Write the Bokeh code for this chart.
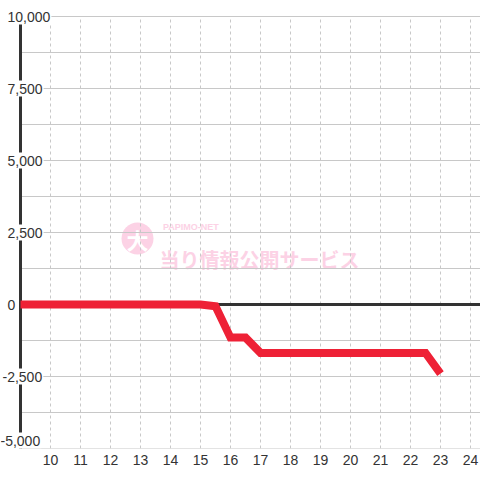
from bokeh.plotting import figure
from bokeh.models import Range1d, FixedTicker
from bokeh.core.properties import value
from bokeh.embed import file_html
from bokeh.resources import INLINE

# data
times = [9, 15, 15.5, 16, 16.5, 17, 22.5, 23]
values = [0, 0, -60, -1150, -1150, -1680, -1680, -2400]
x_ticks = [10, 11, 12, 13, 14, 15, 16, 17, 18, 19, 20, 21, 22, 23, 24]
y_ticks = [10000, 7500, 5000, 2500, 0, -2500, -5000]
y_labels = ["10,000", "7,500", "5,000", "2,500", "0", "-2,500", "-5,000"]
grid_values = [10000, 8750, 7500, 6250, 5000, 3750, 2500, 1250, 0, -1250, -2500, -3750, -5000]

# layout constants
PX_X = 30.0            # pixels per hour
PX_Y = 72.0 / 2500.0   # pixels per unit of value
AXIS_X = 9
Y0, YTOP = -5000, 10000
X0 = AXIS_X - 20 / PX_X
X1 = X0 + 480 / PX_X
Y1 = YTOP + 16 / PX_Y

p = figure(width=480, height=480, output_backend="svg", toolbar_location=None,
           x_range=Range1d(X0, X1), y_range=Range1d(Y0, Y1),
           min_border_left=0, min_border_right=0, min_border_top=0, min_border_bottom=32)
p.outline_line_color = None
p.background_fill_color = "white"
p.border_fill_color = "white"
p.yaxis.visible = False
p.grid.visible = False

ax = p.xaxis[0]
ax.ticker = FixedTicker(ticks=x_ticks)
ax.axis_line_color = None
ax.major_tick_line_color = None
ax.minor_tick_line_color = None
ax.major_tick_out = 0
ax.major_tick_in = 0
ax.major_label_standoff = 6
ax.major_label_text_font = "Liberation Sans"
ax.major_label_text_font_size = "14px"
ax.major_label_text_color = "#333333"

# watermark
p.scatter([12.9], [2290], size=32, marker="circle", fill_color="#fcd2e5", line_color=None)
p.text([12.9], [2290], text=["大"], text_font=value("Noto Sans CJK JP"), text_font_style="bold",
       text_font_size="22px", text_color="white", text_align="center", text_baseline="middle")
p.text([13.75], [2700], text=["PAPIMO-NET"], text_font=value("Liberation Sans"), text_font_style="bold",
       text_font_size="9px", text_color="#fcd2e5", text_align="left", text_baseline="middle")
p.text([13.63], [1560], text=["当り情報公開サービス"], text_font=value("Noto Sans CJK JP"),
       text_font_style="bold", text_font_size="20px", text_color="#fcd2e5",
       text_align="left", text_baseline="middle")

# vertical dashed gridlines
p.segment(x0=x_ticks, y0=[Y0] * len(x_ticks), x1=x_ticks, y1=[YTOP] * len(x_ticks),
          line_color="#c8c8c8", line_width=1, line_dash="3 3")
# horizontal gridlines
p.segment(x0=[AXIS_X] * len(grid_values), y0=grid_values, x1=[X1] * len(grid_values), y1=grid_values,
          line_color="#c8c8c8", line_width=1)

# axis lines
p.segment(x0=[AXIS_X], y0=[Y0], x1=[AXIS_X], y1=[YTOP], line_color="#333333", line_width=3)
p.segment(x0=[AXIS_X], y0=[0], x1=[X1], y1=[0], line_color="#333333", line_width=3)

# series
p.line(times, values, line_color="#ee2136", line_width=8, line_join="miter")

# y labels, each on a white box that hides the lines beneath
CHAR_W = {"-": 4.7, ",": 3.9}
def text_width(s):
    return sum(CHAR_W.get(c, 7.8) for c in s)

lx, ly, lw, tx, ty, tt, toff_y = [], [], [], [], [], [], []
for v, s in zip(y_ticks, y_labels):
    w = text_width(s)
    left_px = -13 - (5 if s.startswith("-") else 0)
    if v == Y0:
        left_px = -20
    cy = v + (8 / PX_Y if v == Y0 else 0)
    lx.append(AXIS_X + (left_px + w / 2) / PX_X)
    ly.append(cy)
    lw.append(w + 2)
    tx.append(AXIS_X + left_px / PX_X)
    ty.append(cy)
    tt.append(s)

p.rect(x=lx, y=ly, width=lw, height=[16] * len(lw), width_units="screen", height_units="screen",
       fill_color="white", line_color=None)
p.text(tx, ty, text=tt, text_font=value("Liberation Sans"), text_font_size="14px",
       text_color="#333333", text_align="left", text_baseline="middle")

open("out.html", "w").write(file_html(p, INLINE))
